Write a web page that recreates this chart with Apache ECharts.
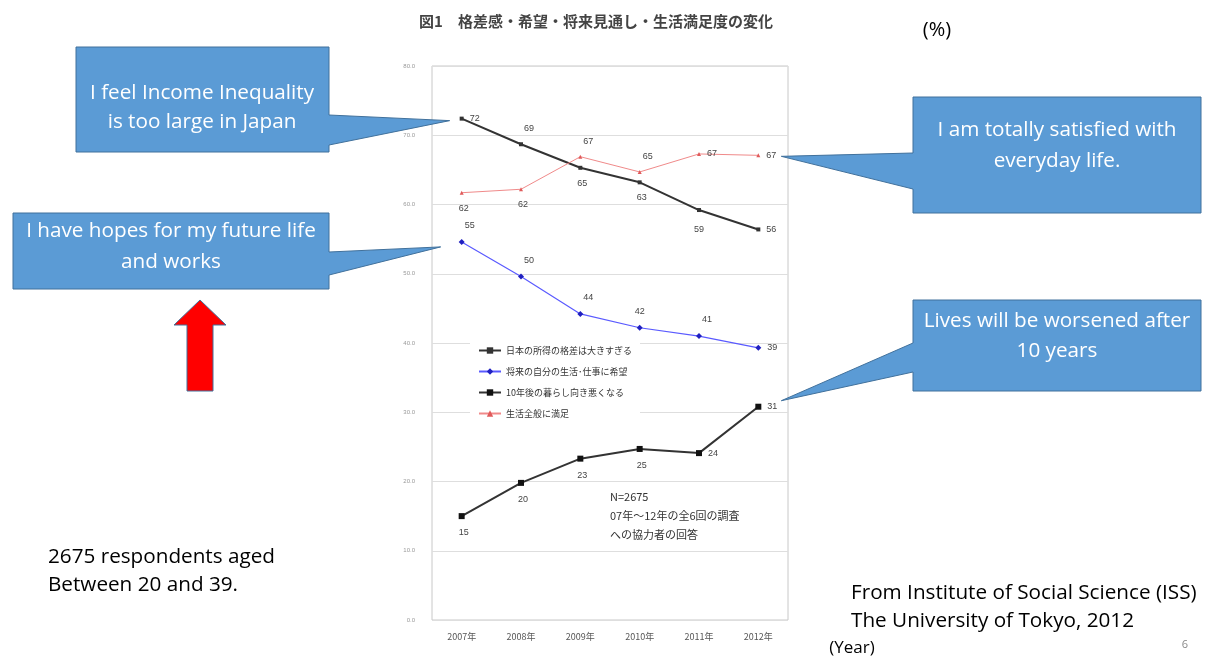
<!DOCTYPE html>
<html><head><meta charset="utf-8">
<script src="https://cdn.jsdelivr.net/npm/echarts@6/dist/echarts.min.js"></script>
<style>html,body{margin:0;padding:0;background:#fff}#c{width:1215px;height:660px}</style>
</head><body><div id="c"></div>
<script>
const years = ['2007年','2008年','2009年','2010年','2011年','2012年'];
const inequality = [72.4, 68.7, 65.3, 63.2, 59.2, 56.4];
const hope = [54.6, 49.6, 44.2, 42.2, 41.0, 39.3];
const worse = [15.0, 19.8, 23.3, 24.7, 24.1, 30.8];
const satisfied = [61.7, 62.2, 66.9, 64.7, 67.3, 67.1];
const seriesNames = ['日本の所得の格差は大きすぎる','将来の自分の生活･仕事に希望','10年後の暮らし向き悪くなる','生活全般に満足'];
const yTicks = [0, 10, 20, 30, 40, 50, 60, 70, 80];

// label placement per point (style only)
const posInequality = ['right','topRight','bottom','bottom','bottomLow','right'];
const posHope = ['topRight','topRight','topRight','top','topRight','right'];
const posWorse = ['bottom','bottom','bottom','bottom','right','right'];
const posSatisfied = ['bottom','bottom','topRight','topRight','right','right'];

function labelFor(p){
  const base = {show:true, fontSize:9, color:'#444', fontFamily:'Liberation Sans'};
  if(p==='topRight') return Object.assign(base,{position:'top', offset:[8,-4]});
  if(p==='bottomLow') return Object.assign(base,{position:'bottom', offset:[0,8]});
  if(p==='bottom') return Object.assign(base,{position:'bottom', offset:[2,4]});
  if(p==='top') return Object.assign(base,{position:'top', offset:[0,-4]});
  return Object.assign(base,{position:'right', distance:6});
}
function build(vals, pos){
  return vals.map((v,i)=>({value:v, label:labelFor(pos[i])}));
}

const chart = echarts.init(document.getElementById('c'));
const fmt = p => Math.round(p.value);
chart.setOption({
  animation:false,
  backgroundColor:'#fff',
  title:{text:'図1　格差感・希望・将来見通し・生活満足度の変化', left:591, top:9, textAlign:'center',
    textStyle:{fontFamily:'Noto Sans CJK JP', fontSize:15, fontWeight:'bold', color:'#444'}},
  grid:{left:432, right:427, top:66, bottom:40, show:true, borderColor:'#c8c8c8', borderWidth:1, containLabel:false},
  xAxis:{type:'category', data:years, boundaryGap:true,
    axisLine:{show:false}, axisTick:{show:false},
    axisLabel:{fontSize:9, color:'#555', margin:12, fontFamily:'Noto Sans CJK JP'}},
  yAxis:{type:'value', min:yTicks[0], max:yTicks[yTicks.length-1], interval:10,
    axisLine:{show:false}, axisTick:{show:false},
    axisLabel:{fontSize:6, color:'#999', margin:17, formatter:v=>v.toFixed(1)},
    splitLine:{lineStyle:{color:'#dedede', width:1}}},
  legend:{orient:'vertical', left:470, top:340, itemGap:12, itemWidth:22, itemHeight:8,
    backgroundColor:'#fff', padding:[6,8],
    textStyle:{fontSize:9, color:'#333', fontFamily:'Noto Sans CJK JP'},
    data:seriesNames},
  series:[
    {name:seriesNames[0], type:'line', data:build(inequality,posInequality), symbol:'rect', symbolSize:4,
      lineStyle:{color:'#333', width:2}, itemStyle:{color:'#333'}, label:{formatter:fmt}},
    {name:seriesNames[1], type:'line', data:build(hope,posHope), symbol:'diamond', symbolSize:6,
      lineStyle:{color:'#5a5aff', width:1.2}, itemStyle:{color:'#2020c0'}, label:{formatter:fmt}},
    {name:seriesNames[2], type:'line', data:build(worse,posWorse), symbol:'rect', symbolSize:6,
      lineStyle:{color:'#333', width:2}, itemStyle:{color:'#111'}, label:{formatter:fmt}},
    {name:seriesNames[3], type:'line', data:build(satisfied,posSatisfied), symbol:'triangle', symbolSize:4,
      lineStyle:{color:'#f08a8a', width:1}, itemStyle:{color:'#e05a5a'}, label:{formatter:fmt}}
  ]
});

function px(si, i, v){ return chart.convertToPixel({seriesIndex:si}, [i, v]); }
const t1 = px(0,0,inequality[0]); const tip1=[t1[0]-12, t1[1]+2];
const t2 = px(1,0,hope[0]); const tip2=[t2[0]-21, t2[1]+5];
const t3 = px(3,5,satisfied[5]); const tip3=[t3[0]+23, t3[1]+1];
const t4 = px(2,5,worse[5]); const tip4=[t4[0]+23, t4[1]-6];

const boxFill='#5b9bd5', boxStroke='#41719c';
const textFont = {fontFamily:'Open Sans', fontSize:20.7, fill:'#fff', textAlign:'center', textVerticalAlign:'middle'};
function poly(points){ return {type:'polygon', shape:{points}, style:{fill:boxFill, stroke:boxStroke, lineWidth:1}, z:10}; }
function txt(x,y,s,extra){ return {type:'text', x, y, style:Object.assign({}, textFont, {text:s}, extra||{}), z:11}; }
const blk = {fill:'#000', textAlign:'left', fontSize:20.7};

chart.setOption({graphic:[
  poly([[76,47],[329,47],[329,115],tip1,[329,145],[329,152],[76,152]]),
  txt(202,93,'I feel Income Inequality'), txt(202,122,'is too large in Japan'),
  poly([[13,213],[329,213],[329,252],tip2,[329,275],[329,289],[13,289]]),
  txt(171,231,'I have hopes for my future life'), txt(171,262,'and works'),
  poly([[913,97],[1201,97],[1201,213],[913,213],[913,189],tip3,[913,153]]),
  txt(1057,130,'I am totally satisfied with'), txt(1057,161,'everyday life.'),
  poly([[913,300],[1201,300],[1201,391],[913,391],[913,372],tip4,[913,343]]),
  txt(1057,321,'Lives will be worsened after'), txt(1057,351,'10 years'),
  {type:'polygon', shape:{points:[[200,300],[226,325],[213,325],[213,391],[187,391],[187,325],[174,325]]},
    style:{fill:'#ff0000', stroke:'#41719c', lineWidth:1}, z:10},
  txt(48,557,'2675 respondents aged',blk),
  txt(48,585,'Between 20 and 39.',blk),
  txt(851,593,'From Institute of Social Science (ISS)',blk),
  txt(851,621,'The University of Tokyo, 2012',blk),
  txt(937,30,'(%)',{fill:'#000', fontSize:20}),
  txt(852,648,'(Year)',{fill:'#000', fontSize:17}),
  txt(1185,645,'6',{fill:'#888', fontSize:11}),
  txt(610,497,'N=2675',{fill:'#333', textAlign:'left', fontSize:11, fontFamily:'Noto Sans CJK JP'}),
  txt(610,516,'07年～12年の全6回の調査',{fill:'#333', textAlign:'left', fontSize:11, fontFamily:'Noto Sans CJK JP'}),
  txt(610,535,'への協力者の回答',{fill:'#333', textAlign:'left', fontSize:11, fontFamily:'Noto Sans CJK JP'})
]});
</script></body></html>
